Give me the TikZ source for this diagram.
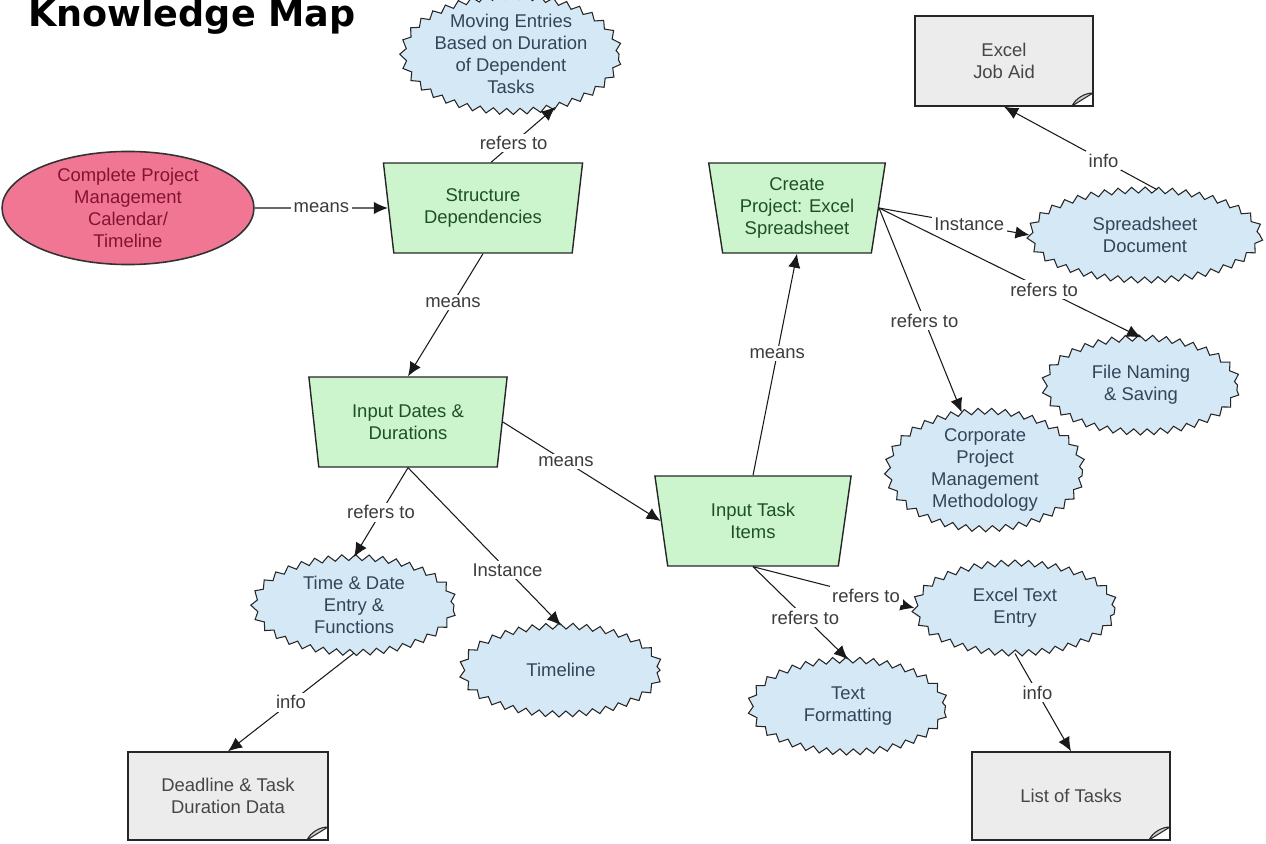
\documentclass[tikz,border=0pt]{standalone}
\usepackage{fontspec}
\setmainfont{Liberation Sans}
\newfontfamily\titlefont{DejaVu Sans}
\usetikzlibrary{shapes.geometric,arrows.meta,decorations.pathmorphing}

\definecolor{goalfill}{RGB}{240,118,148}
\definecolor{goaltext}{RGB}{130,20,50}
\definecolor{taskfill}{RGB}{205,245,205}
\definecolor{tasktext}{RGB}{30,80,40}
\definecolor{topicfill}{RGB}{212,232,246}
\definecolor{topictext}{RGB}{50,70,90}
\definecolor{docfill}{RGB}{236,236,236}
\definecolor{doctext}{RGB}{70,70,70}
\definecolor{linktext}{RGB}{60,60,60}

\tikzset{
  nodefont/.style={font=\fontsize{10.5}{12.6}\selectfont, align=center},
  goal/.style={nodefont, ellipse, draw=black!80, line width=0.9pt, fill=goalfill,
    text=goaltext, inner sep=0pt, minimum width=5.04cm, minimum height=2.24cm},
  task/.style={nodefont, trapezium, trapezium angle=80, shape border rotate=180,
    trapezium stretches=true, draw=black!85, line width=0.8pt, fill=taskfill,
    text=tasktext, inner sep=0pt, minimum width=#1, minimum height=1.8cm},
  topic/.style={nodefont, ellipse, draw=black!85, line width=0.6pt, fill=topicfill,
    text=topictext, inner sep=0pt, decorate,
    decoration={zigzag, segment length=0.27cm, amplitude=0.06cm}},
  docbox/.style={nodefont, rectangle, draw=black!85, line width=0.8pt, fill=docfill,
    text=doctext, inner sep=0pt, minimum width=4cm, minimum height=1.76cm,
    path picture={
      \fill[white] ([xshift=-0.42cm]path picture bounding box.south east)
        -- (path picture bounding box.south east)
        -- ([yshift=0.26cm]path picture bounding box.south east) -- cycle;
      \draw[line width=0.6pt, fill=black!20] ([xshift=-0.42cm]path picture bounding box.south east)
        .. controls +(0.08cm,0.16cm) and +(-0.16cm,0cm) ..
        ([yshift=0.26cm]path picture bounding box.south east) -- cycle;}},
  conn/.style={-{Latex[length=8pt,width=7pt]}, line width=0.6pt, black!90},
  lbl/.style={font=\fontsize{10.5}{12}\selectfont, text=linktext, fill=white,
    inner sep=1.5pt}
}

\begin{document}
\begin{tikzpicture}[x=0.02cm, y=-0.02cm]
  \useasboundingbox (0,0) rectangle (1266,844);
  \node[anchor=base west, font=\titlefont\bfseries\fontsize{20.8}{24}\selectfont] (title) at (22,27) {Knowledge Map};

  % concepts
  \node[goal] (pm) at (128,208) {Complete Project\\Management\\Calendar/\\Timeline};
  \node[task=4cm] (sd) at (483,208) {Structure\\Dependencies};
  \node[task=3.54cm] (cp) at (797,208) {Create\\Project: Excel\\Spreadsheet};
  \node[task=3.98cm] (id) at (408,422) {Input Dates \&\\Durations};
  \node[task=3.94cm] (it) at (753,521) {Input Task\\Items};

  \node[topic, minimum width=3.8cm, minimum height=2.3cm] (me) at (511,54) {Moving Entries\\Based on Duration\\of Dependent\\Tasks};
  \node[topic, minimum width=4.6cm, minimum height=1.8cm] (ss) at (1145,235) {Spreadsheet\\Document};
  \node[topic, minimum width=3.86cm, minimum height=1.88cm] (fn) at (1141,385) {File Naming\\\& Saving};
  \node[topic, minimum width=3.9cm, minimum height=2.3cm] (co) at (985,470) {Corporate\\Project\\Management\\Methodology};
  \node[topic, minimum width=4cm, minimum height=1.9cm] (td) at (354,605) {Time \& Date\\Entry \&\\Functions};
  \node[topic, minimum width=3.96cm, minimum height=1.76cm] (tl) at (561,670) {Timeline};
  \node[topic, minimum width=3.9cm, minimum height=1.84cm] (tf) at (848,706) {Text\\Formatting};
  \node[topic, minimum width=4cm, minimum height=1.8cm] (xt) at (1015,608) {Excel Text\\Entry};

  \node[docbox, minimum width=3.56cm, minimum height=1.8cm] (ej) at (1004,61) {Excel\\Job Aid};
  \node[docbox] (dl) at (228,796) {Deadline \& Task\\Duration Data};
  \node[docbox, minimum width=3.96cm] (lt) at (1071,796) {List of Tasks};

  % links
  \draw[conn] (pm) -- node[lbl]{means} (sd);
  \draw[conn] (sd.80) -- node[lbl, pos=0.35]{refers to} (me.-50);
  \draw[conn] (sd.south) -- node[lbl, pos=0.4]{means} (id.north);
  \draw[conn] (id.east) -- node[lbl, pos=0.4]{means} (it.west);
  \draw[conn] (it.north) -- node[lbl, pos=0.55]{means} (cp.south);
  \draw[conn] (cp.east) -- node[lbl, pos=0.6]{Instance} (ss.west);
  \draw[conn] (cp.east) -- node[lbl, pos=0.63]{refers to} (fn.north);
  \draw[conn] (cp.east) -- node[lbl, pos=0.55]{refers to} (co);
  \draw[conn] (ss.75) -- node[lbl, pos=0.35]{info} (ej.south);
  \draw[conn] (id.south) -- node[lbl]{refers to} (td.north);
  \draw[conn] (id.south) -- node[lbl, pos=0.65]{Instance} (tl.north);
  \draw[conn] (it.south) -- node[lbl, pos=0.55]{refers to} (tf.north);
  \draw[conn] (it.south) -- node[lbl, pos=0.7]{refers to} (xt.west);
  \draw[conn] (xt.south) -- node[lbl, pos=0.4]{info} (lt.north);
  \draw[conn] (td.south) -- node[lbl]{info} (dl.north);
\end{tikzpicture}
\end{document}
